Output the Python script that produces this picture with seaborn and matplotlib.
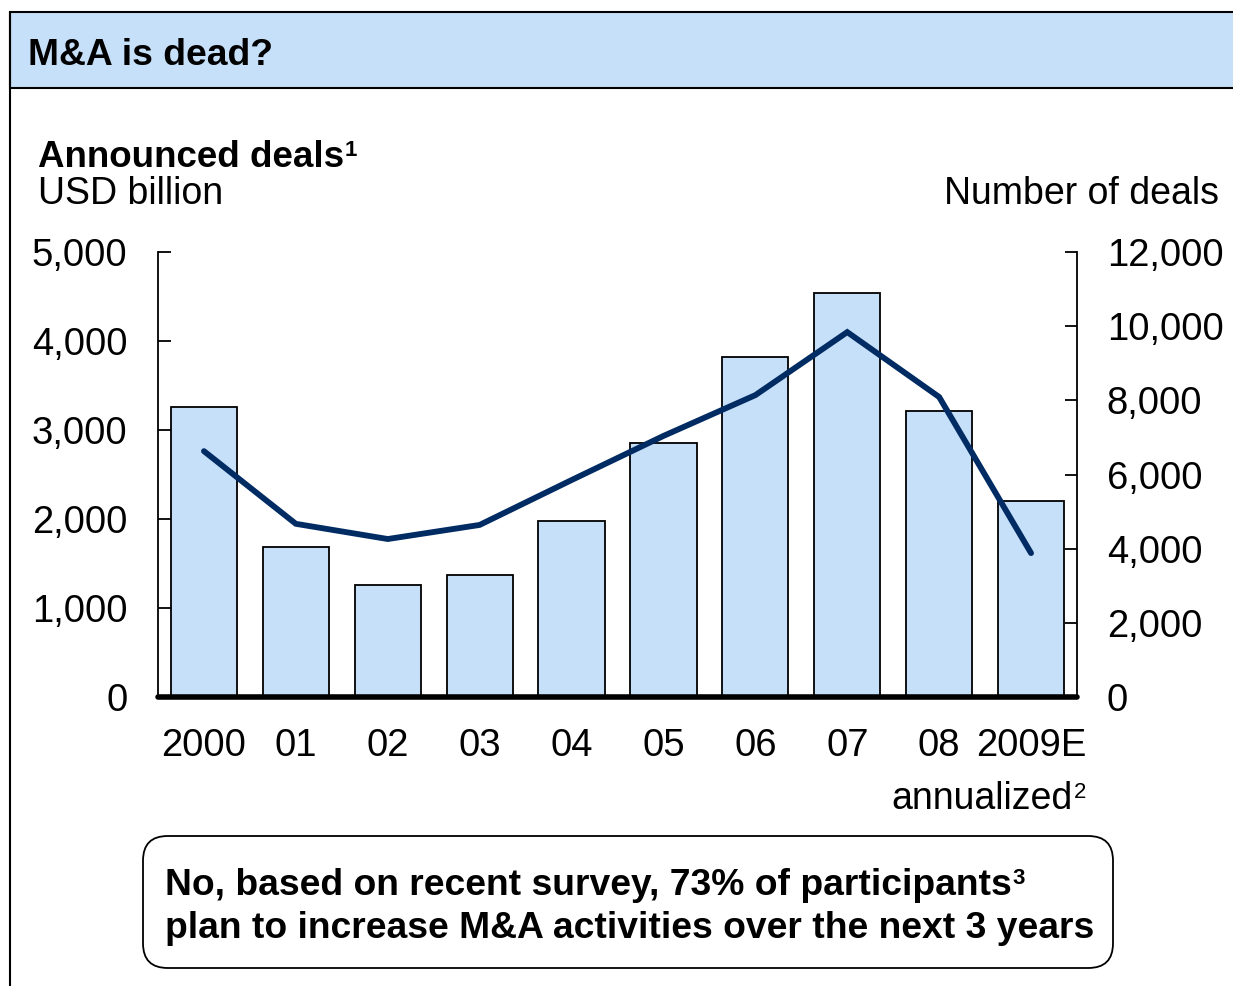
import numpy as np
import pandas as pd
import matplotlib
matplotlib.use("Agg")
import matplotlib.pyplot as plt
from matplotlib.patches import Rectangle, FancyBboxPatch
from matplotlib.lines import Line2D
import seaborn as sns

# ---- data ----
years = ["2000", "01", "02", "03", "04", "05", "06", "07", "08", "2009E"]
value_usd_bn = [3260, 1690, 1260, 1370, 1980, 2850, 3820, 4540, 3210, 2200]
num_deals = [6630, 4670, 4260, 4640, 5850, 7040, 8140, 9840, 8090, 3880]
left_ticks = [0, 1000, 2000, 3000, 4000, 5000]
right_ticks = [0, 2000, 4000, 6000, 8000, 10000, 12000]

BAR = "#C6E0FA"
LINE = "#002B63"
FONT = "Liberation Sans"

sns.set_theme(style="white")
plt.rcParams["font.family"] = [FONT, "DejaVu Sans"]
plt.rcParams["text.color"] = "black"
plt.rcParams["xtick.color"] = "black"
plt.rcParams["ytick.color"] = "black"
plt.rcParams["axes.labelcolor"] = "black"

W, H = 1233, 986
fig = plt.figure(figsize=(W / 100, H / 100), dpi=100)

def fx(x):
    return x / W

def fy(y):
    return 1 - y / H

# header band and frame
fig.patches.append(Rectangle((fx(10), fy(88)), fx(1300), fy(12) - fy(88),
                             transform=fig.transFigure, facecolor=BAR,
                             edgecolor="black", lw=1.5, zorder=0))
fig.lines.append(Line2D([fx(10), fx(10)], [fy(12), fy(990)], transform=fig.transFigure,
                        color="black", lw=1.5))

# axes
ax = fig.add_axes([fx(158), fy(697), fx(1077) - fx(158), fy(252) - fy(697)])
df = pd.DataFrame({"year": years, "value": value_usd_bn, "deals": num_deals})
df["pos"] = np.arange(len(df))

sns.barplot(data=df, x="year", y="value", ax=ax, color=BAR, width=0.72,
            edgecolor="black", linewidth=1.3, saturation=1, zorder=2)
ax.set_xlim(-0.5, len(years) - 0.5)
ax.set_ylim(0, 5000)
ax.set_yticks(left_ticks)
ax.set_yticklabels([f"{v:,}" for v in left_ticks])
ax.set_xlabel("")
ax.set_ylabel("")
for s in ["top", "right"]:
    ax.spines[s].set_visible(False)
ax.spines["left"].set_color("black")
ax.spines["left"].set_linewidth(1.3)
ax.spines["bottom"].set_color("black")
ax.spines["bottom"].set_linewidth(4)
ax.spines["bottom"].set_capstyle("round")
ax.spines["bottom"].set_zorder(5)
ax.tick_params(axis="y", direction="in", length=9, width=1.3, pad=22, labelsize=27.5, left=True)
ax.tick_params(axis="x", length=0, pad=22, labelsize=27.5)
ax.grid(False)

ax2 = ax.twinx()
sns.lineplot(data=df, x="pos", y="deals", ax=ax2, color=LINE, linewidth=4.2,
             solid_capstyle="round", solid_joinstyle="miter", zorder=3)
ax2.set_ylim(0, 12000)
ax2.set_xlim(-0.5, len(years) - 0.5)
ax2.set_yticks(right_ticks)
ax2.set_yticklabels([f"{v:,}" for v in right_ticks])
ax2.set_ylabel("")
ax2.set_xlabel("")
for s in ["top", "left", "bottom"]:
    ax2.spines[s].set_visible(False)
ax2.spines["right"].set_color("black")
ax2.spines["right"].set_linewidth(1.3)
ax2.tick_params(axis="y", direction="in", length=9, width=1.3, pad=21.5, labelsize=27.5, right=True)
ax2.grid(False)

# callout box
fig.patches.append(FancyBboxPatch((fx(143), fy(968)), fx(1113) - fx(143), fy(836) - fy(968),
                                  boxstyle="round,pad=0,rounding_size=0.02",
                                  transform=fig.transFigure, facecolor="white",
                                  edgecolor="black", lw=1.3,
                                  mutation_aspect=W / H))

# texts (superscripts placed after measuring)
texts_with_sup = []
def add(x, y, s, sup=None, **kw):
    t = fig.text(fx(x), fy(y), s, va="baseline", **kw)
    if sup is not None:
        texts_with_sup.append((t, sup, kw))
    return t

add(28, 65, "M&A is dead?", fontsize=26.8, fontweight="bold", ha="left")
add(38, 167, "Announced deals", sup="1", fontsize=26.5, fontweight="bold", ha="left")
add(38, 204, "USD billion", fontsize=27, ha="left")
add(1219, 204, "Number of deals", fontsize=27, ha="right")
add(1073, 809, "annualized", sup="2", fontsize=27, ha="right")
add(165, 895, "No, based on recent survey, 73% of participants", sup="3",
    fontsize=26.8, fontweight="bold", ha="left")
add(165, 938, "plan to increase M&A activities over the next 3 years",
    fontsize=26.8, fontweight="bold", ha="left")

fig.canvas.draw()
renderer = fig.canvas.get_renderer()
for t, sup, kw in texts_with_sup:
    bb = t.get_window_extent(renderer)
    xr = bb.x1 / W + fx(1)
    yb = t.get_position()[1] + 11 / H
    fig.text(xr, yb, sup, fontsize=16, fontweight=kw.get("fontweight", "normal"),
             ha="left", va="baseline")

fig.savefig("out.png", dpi=100)
